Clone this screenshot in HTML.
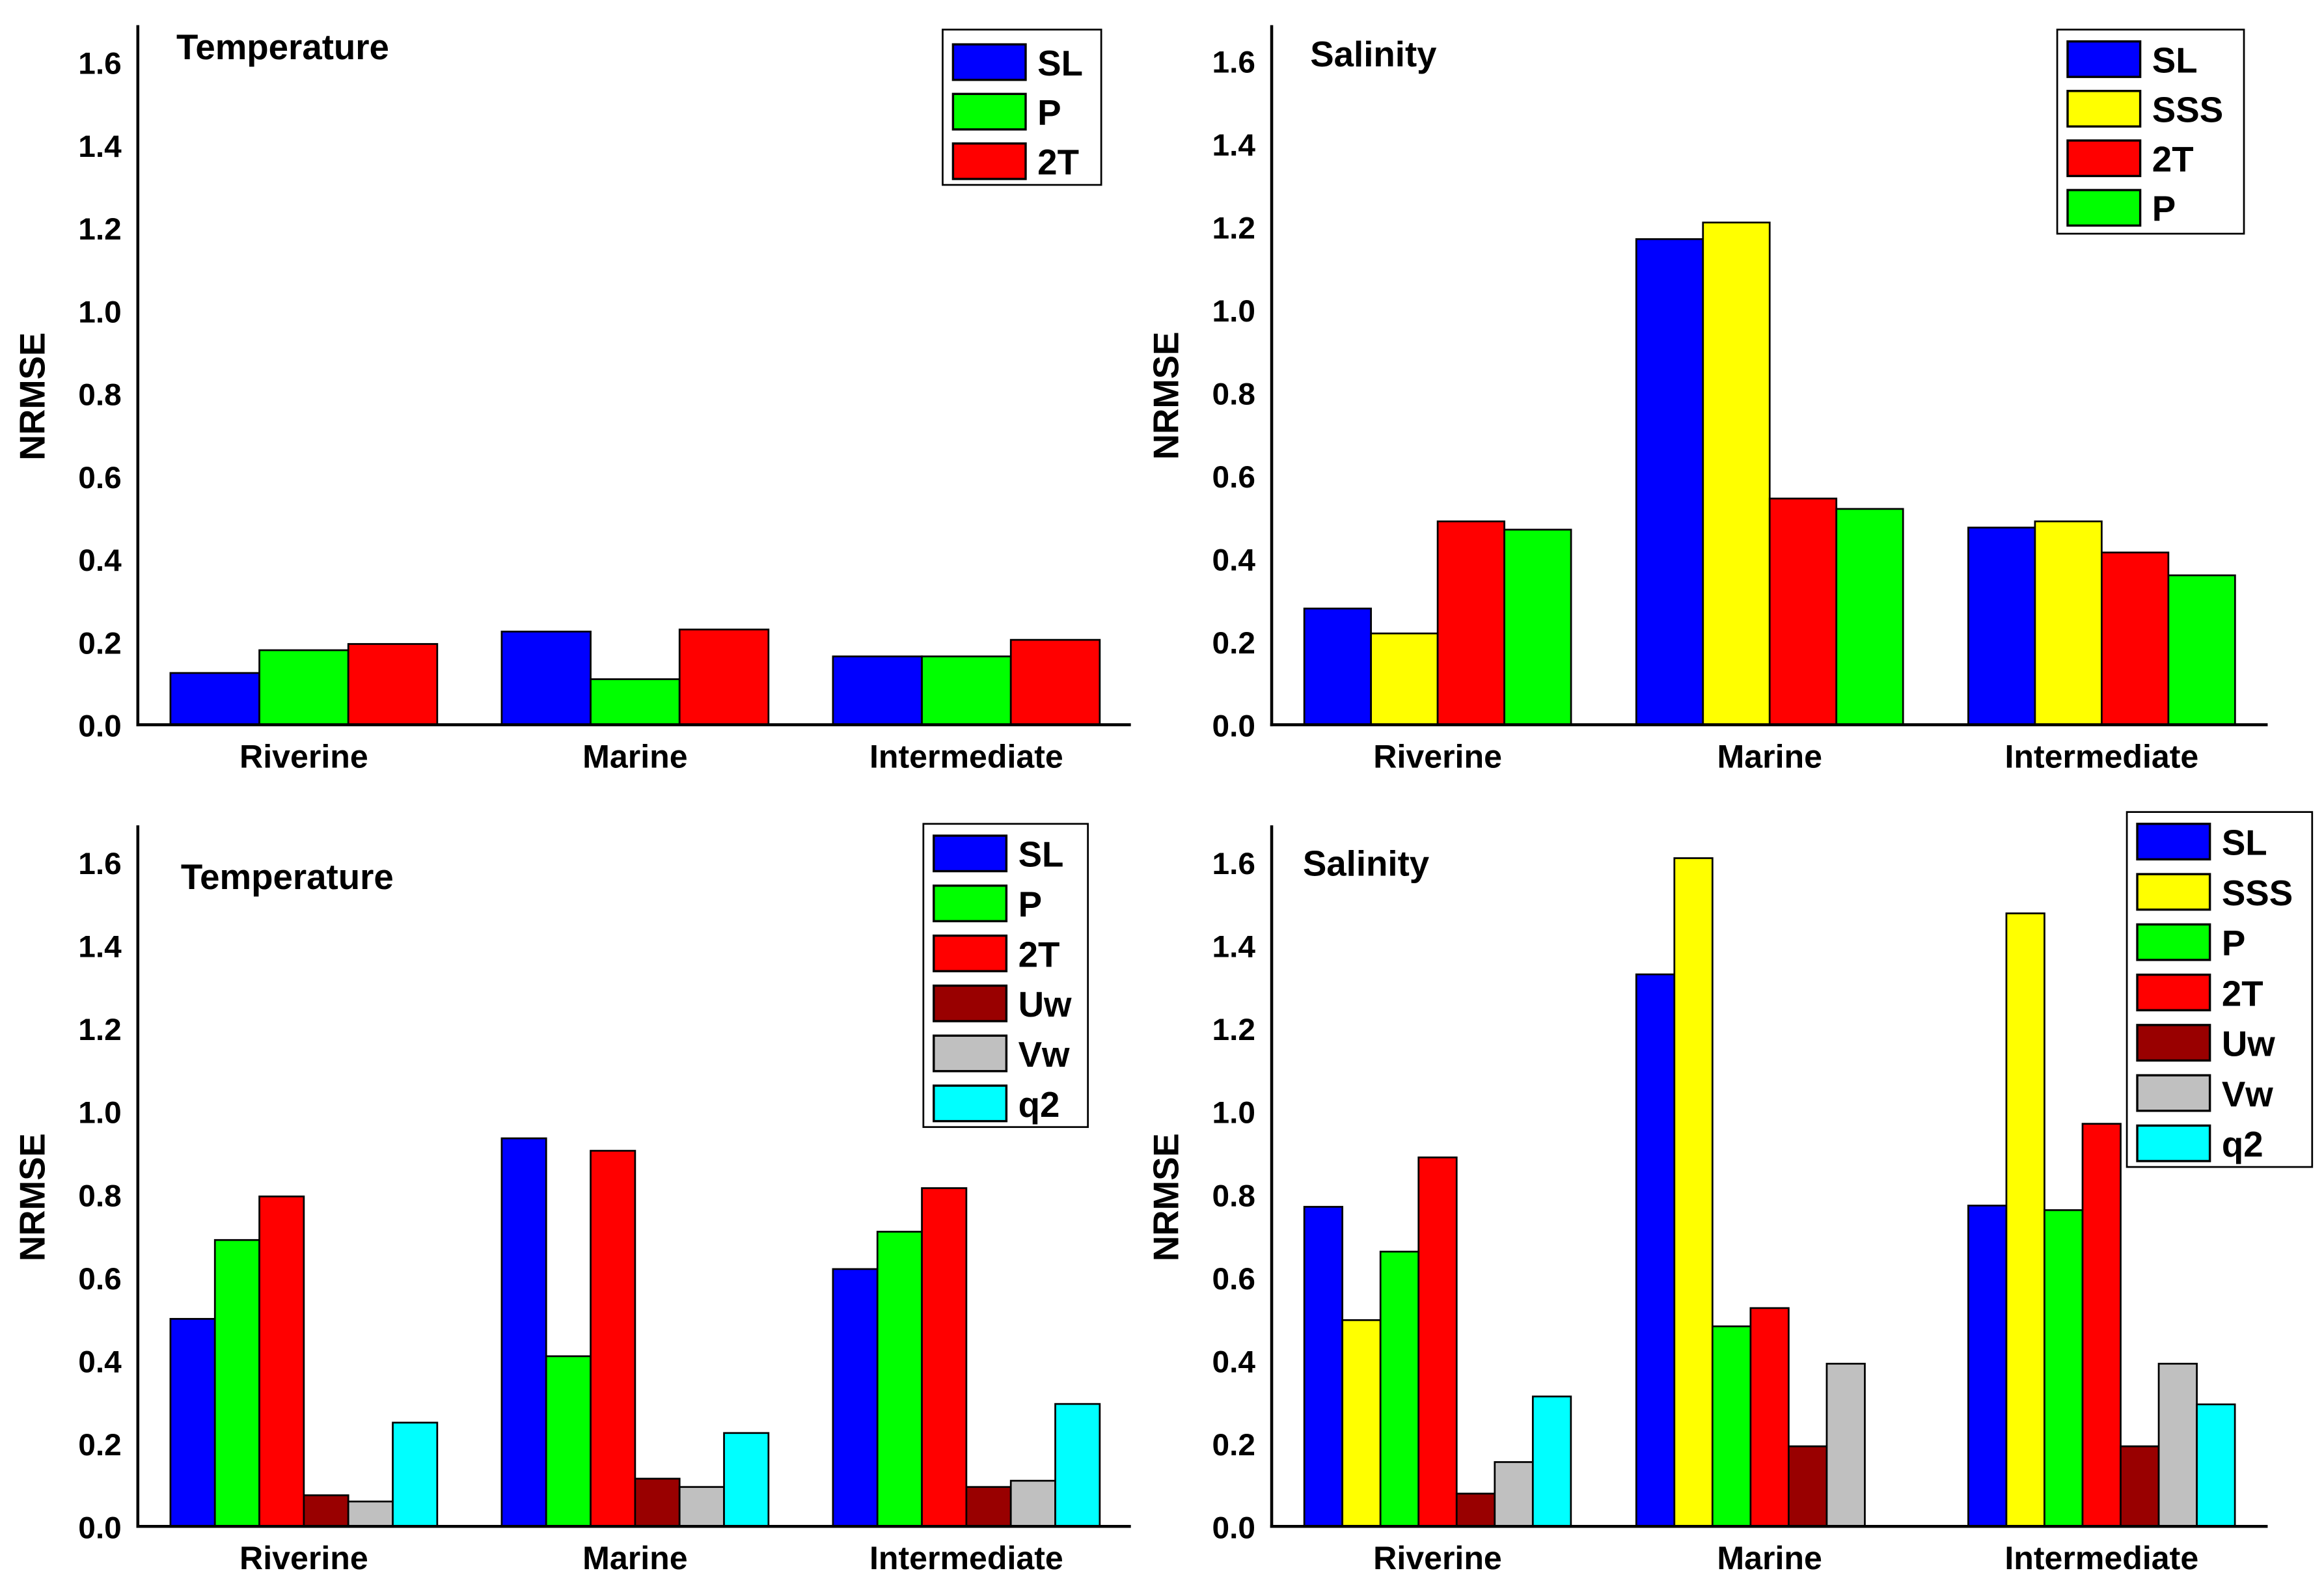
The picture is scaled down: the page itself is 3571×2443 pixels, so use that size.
<!DOCTYPE html>
<html><head><meta charset="utf-8"><style>html,body{margin:0;padding:0;background:#fff}svg{display:block}text{font-family:"Liberation Sans",sans-serif;font-weight:bold;fill:#000}</style></head>
<body>
<svg id="fig" width="3571" height="2443" viewBox="0 0 1568 1075" preserveAspectRatio="none" xmlns="http://www.w3.org/2000/svg"></svg>
<script>
const categories = ["Riverine","Marine","Intermediate"];
const yTicks = [0,0.2,0.4,0.6,0.8,1.0,1.2,1.4,1.6];
const yTickLabels = ["0.0","0.2","0.4","0.6","0.8","1.0","1.2","1.4","1.6"];
const tlSeries = ["SL","P","2T"];
const tlSL = [0.125,0.225,0.165];
const tlP = [0.18,0.11,0.165];
const tl2T = [0.195,0.23,0.205];
const trSeries = ["SL","SSS","2T","P"];
const trSL = [0.28,1.17,0.475];
const trSSS = [0.22,1.21,0.49];
const tr2T = [0.49,0.545,0.415];
const trP = [0.47,0.52,0.36];
const blSeries = ["SL","P","2T","Uw","Vw","q2"];
const blSL = [0.5,0.935,0.62];
const blP = [0.69,0.41,0.71];
const bl2T = [0.795,0.905,0.815];
const blUw = [0.075,0.115,0.095];
const blVw = [0.06,0.095,0.11];
const blq2 = [0.25,0.225,0.295];
const brSeries = ["SL","SSS","P","2T","Uw","Vw","q2"];
const brSL = [0.77,1.33,0.773];
const brSSS = [0.497,1.61,1.477];
const brP = [0.662,0.482,0.762];
const br2T = [0.889,0.526,0.97];
const brUw = [0.079,0.193,0.193];
const brVw = [0.155,0.392,0.392];
const brq2 = [0.313,0,0.294];

const colors = {SL:"#0000ff",P:"#00ff00","2T":"#ff0000",SSS:"#ffff00",Uw:"#990000",Vw:"#c0c0c0",q2:"#00ffff"};
const NS="http://www.w3.org/2000/svg";
const svg=document.getElementById('fig');
function mk(tag,attrs,parent){const e=document.createElementNS(NS,tag);for(const k in attrs)e.setAttribute(k,attrs[k]);(parent||svg).appendChild(e);return e;}

function panel(p){
  const g=mk('g',{});
  
  
  const y=v=>p.y0-(p.y0-p.y16)*v/1.6;
  categories.forEach((c,ci)=>{
    const gx=p.gx0+ci*p.gstep;
    p.series.forEach((s,si)=>{
      const v=p.vals[si][ci];
      if(!v) return;
      const r=mk('rect',{x:gx+si*p.bw,y:y(v),width:p.bw,height:p.y0-y(v),fill:colors[s],stroke:'#000','stroke-width':1.2},g);
      
      
    });
    const t=mk('text',{x:gx+p.bw*p.series.length/2,y:p.y0+29,'text-anchor':'middle','font-size':22},g);
    t.textContent=c;
    
    
  });
  const ax=mk('line',{x1:p.ax,y1:p.top,x2:p.ax,y2:p.y0+1,stroke:'#000','stroke-width':2},g);
  
  
  const xx=mk('line',{x1:p.ax-1,y1:p.y0,x2:p.xend,y2:p.y0,stroke:'#000','stroke-width':2},g);
  
  
  yTicks.forEach((v,i)=>{
    const t=mk('text',{x:p.ax-11,y:y(v)+8,'text-anchor':'end','font-size':21},g);
    t.textContent=yTickLabels[i];
    
    
  });
  const yt=mk('text',{transform:`translate(${p.ax-63},${(p.y0+p.y16)/2+2}) rotate(-90)`,'text-anchor':'middle','font-size':24},g);
  yt.textContent='NRMSE';
  
  
  const ti=mk('text',{x:p.tx,y:p.ty,'font-size':24},g);
  ti.textContent=p.title;
  
  
  const lg=mk('g',{},g);
  
  
  mk('rect',{x:p.lx,y:p.ly,width:p.lw,height:p.lh,fill:'#fff',stroke:'#000','stroke-width':1.2},lg);
  p.series.forEach((s,si)=>{
    const cy=p.lc0+si*p.lstep;
    const e=mk('g',{},lg);
    
    
    mk('rect',{x:p.lx+7,y:cy-12,width:49,height:24,fill:colors[s],stroke:'#000','stroke-width':1.5},e);
    const t=mk('text',{x:p.lx+64,y:cy+9,'font-size':24},e);
    t.textContent=s;
  });
}

panel({name:'panel-temperature-top',title:'Temperature',tx:119,ty:40,ax:93,top:17,y0:490,y16:42,xend:763,gx0:115,gstep:223.5,bw:60,
  series:tlSeries,vals:[tlSL,tlP,tl2T],lx:636,ly:20,lw:107,lh:105,lc0:42,lstep:33.5});
panel({name:'panel-salinity-top',title:'Salinity',tx:884,ty:45,ax:858,top:17,y0:490,y16:41,xend:1530,gx0:880,gstep:224,bw:45,
  series:trSeries,vals:[trSL,trSSS,tr2T,trP],lx:1388,ly:20,lw:126,lh:138,lc0:40,lstep:33.5});
panel({name:'panel-temperature-bottom',title:'Temperature',tx:122,ty:601,ax:93,top:558,y0:1032,y16:583,xend:763,gx0:115,gstep:223.5,bw:30,
  series:blSeries,vals:[blSL,blP,bl2T,blUw,blVw,blq2],lx:623,ly:557,lw:111,lh:205,lc0:577,lstep:33.8});
panel({name:'panel-salinity-bottom',title:'Salinity',tx:879,ty:592,ax:858,top:558,y0:1032,y16:583,xend:1530,gx0:880,gstep:224,bw:25.7,
  series:brSeries,vals:[brSL,brSSS,brP,br2T,brUw,brVw,brq2],lx:1435,ly:549,lw:125,lh:240,lc0:569,lstep:34});
</script>
</body></html>
